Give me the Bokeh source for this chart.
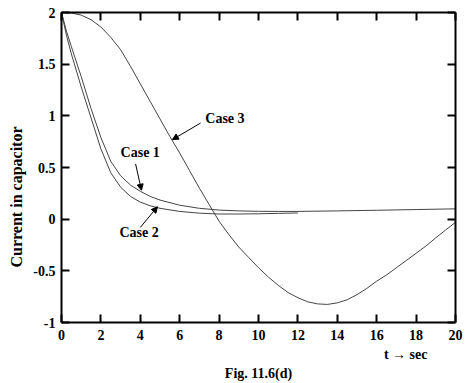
import math
from bokeh.plotting import figure
from bokeh.models import (Range1d, LinearAxis, FixedTicker, Label, Arrow,
                          NormalHead, CustomJSTickFormatter, Title)
from bokeh.embed import file_html
from bokeh.resources import INLINE

# ---- data ----
t_case1 = [0, 0.25, 0.5, 1, 1.5, 2, 2.5, 3, 3.5, 4, 4.5, 5, 6, 7, 8, 9, 10, 11, 12, 14, 16, 18, 20]
i_case1 = [2.0, 1.82, 1.67, 1.38, 1.07, 0.79, 0.56, 0.42, 0.33, 0.27, 0.22, 0.185, 0.135, 0.105, 0.088, 0.08, 0.076, 0.075, 0.075, 0.08, 0.086, 0.093, 0.1]

t_case2 = [0, 0.25, 0.5, 1, 1.5, 2, 2.5, 3, 3.5, 4, 4.5, 5, 6, 7, 8, 9, 10, 11, 12]
i_case2 = [2.0, 1.78, 1.6, 1.28, 0.98, 0.68, 0.45, 0.31, 0.22, 0.165, 0.13, 0.105, 0.075, 0.058, 0.05, 0.05, 0.052, 0.056, 0.06]

t_case3 = [0, 0.5, 1, 1.5, 2, 2.5, 3, 3.5, 4, 4.5, 5, 5.5, 6, 6.5, 7, 7.5, 8, 8.5, 9, 9.5, 10,
           10.5, 11, 11.5, 12, 12.5, 13, 13.5, 14, 14.5, 15, 15.5, 16, 16.5, 17, 17.5, 18, 18.5, 19, 19.5, 20]
i_case3 = [2.0, 1.995, 1.975, 1.93, 1.86, 1.76, 1.64, 1.48, 1.31, 1.14, 0.97, 0.8, 0.64, 0.47, 0.3, 0.14, -0.02, -0.15, -0.27, -0.37, -0.47,
           -0.56, -0.64, -0.71, -0.76, -0.8, -0.82, -0.825, -0.81, -0.78, -0.73, -0.67, -0.6, -0.54, -0.47, -0.4, -0.33, -0.26, -0.18, -0.105, -0.03]

x_ticks = [0, 2, 4, 6, 8, 10, 12, 14, 16, 18, 20]
x_tick_labels = ["0", "2", "4", "6", "8", "10", "12", "14", "16", "18", "20"]
y_ticks = [-1, -0.5, 0, 0.5, 1, 1.5, 2]
y_tick_labels = ["-1", "-0.5", "0", "0.5", "1", "1.5", "2"]

# annotation texts and anchor positions (data units)
case_names = ["Case 1", "Case 2", "Case 3"]
case_text_x = [3.0, 2.94, 7.3]
case_text_y = [0.645, -0.13, 0.97]
arrow_x0 = [3.76, 4.0, 7.06]
arrow_y0 = [0.535, -0.08, 0.93]
arrow_x1 = [4.06, 4.87, 5.63]
arrow_y1 = [0.28, 0.12, 0.77]

y_label = "Current in capacitor"
x_label = "t \u2192 sec"
caption = "Fig. 11.6(d)"

FONT = "Liberation Serif"

p = figure(frame_width=394, frame_height=310,
           x_range=Range1d(0, 20), y_range=Range1d(-1, 2),
           output_backend="svg", toolbar_location=None,
           min_border_left=61, min_border_right=16,
           min_border_top=12, min_border_bottom=61)
p.grid.visible = False
p.outline_line_color = None
p.background_fill_color = "white"
p.border_fill_color = "white"


def style_axis(ax, ticks, labels=None):
    ax.ticker = FixedTicker(ticks=ticks)
    ax.axis_line_width = 2
    ax.axis_line_color = "black"
    ax.major_tick_in = 8
    ax.major_tick_out = 0
    ax.major_tick_line_width = 2
    ax.major_tick_line_color = "black"
    ax.minor_tick_line_color = None
    ax.major_label_text_font = FONT
    ax.major_label_text_font_style = "bold"
    ax.major_label_text_font_size = "14px"
    ax.major_label_text_color = "black"
    if labels is not None:
        ov = {}
        for tk, lb in zip(ticks, labels):
            key = int(tk) if float(tk).is_integer() else tk
            ov[key] = lb
        ax.major_label_overrides = ov
    else:
        ax.formatter = CustomJSTickFormatter(code="return ''")
        ax.major_label_standoff = 0


style_axis(p.xaxis[0], x_ticks, x_tick_labels)
style_axis(p.yaxis[0], y_ticks, y_tick_labels)
p.xaxis[0].major_label_standoff = 7
p.yaxis[0].major_label_standoff = 6

top_ax = LinearAxis()
style_axis(top_ax, x_ticks)
p.add_layout(top_ax, "above")
right_ax = LinearAxis()
style_axis(right_ax, y_ticks)
p.add_layout(right_ax, "right")

for tt, ii in [(t_case1, i_case1), (t_case2, i_case2), (t_case3, i_case3)]:
    p.line(tt, ii, line_color="#444444", line_width=1.0)

for name, tx, ty in zip(case_names, case_text_x, case_text_y):
    p.add_layout(Label(x=tx, y=ty, text=name, text_font=FONT,
                       text_font_style="bold", text_font_size="14px",
                       text_baseline="middle", text_align="left",
                       text_color="black"))

for x0, y0, x1, y1 in zip(arrow_x0, arrow_y0, arrow_x1, arrow_y1):
    p.add_layout(Arrow(end=NormalHead(size=6, fill_color="black",
                                      line_color="black", line_width=1),
                       x_start=x0, y_start=y0, x_end=x1, y_end=y1,
                       line_width=1, line_color="black"))

yt = Title(text=y_label, align="left", offset=55, standoff=8,
           vertical_align="top",
           text_font=FONT, text_font_style="bold", text_font_size="16px",
           text_color="black")
p.add_layout(yt, "left")

xt = Title(text=x_label, align="right", offset=28, standoff=4,
           text_font=FONT, text_font_style="bold", text_font_size="14px",
           text_color="black")
p.add_layout(xt, "below")
ct = Title(text=caption, align="center", standoff=0,
           text_font=FONT, text_font_style="bold", text_font_size="14px",
           text_color="black")
p.add_layout(ct, "below")

open("out.html", "w").write(file_html(p, INLINE))
